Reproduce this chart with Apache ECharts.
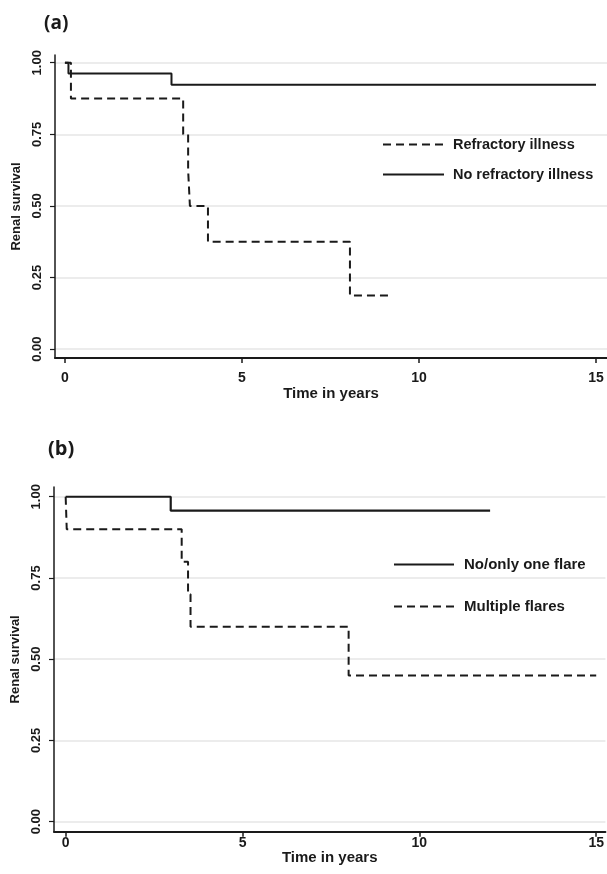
<!DOCTYPE html>
<html>
<head>
<meta charset="utf-8">
<script src="https://cdn.jsdelivr.net/npm/echarts@6/dist/echarts.min.js"></script>
<style>
html,body{margin:0;padding:0;background:#fff;}
#c{width:607px;height:874px;}
</style>
</head>
<body>
<div id="c"></div>
<script>
// Panel (a)
const refTimes = [0, 0.17, 3.34, 3.48, 3.53, 4.04, 8.05, 9.17];
const refSurv = [1, 0.875, 0.75, 0.625, 0.5, 0.375, 0.1875, 0.1875];
const noRefTimes = [0, 0.1, 3.01, 15];
const noRefSurv = [1, 0.962, 0.923, 0.923];
// Panel (b)
const oneFlareTimes = [0, 2.97, 12];
const oneFlareSurv = [1, 0.957, 0.957];
const multiTimes = [0, 0.03, 3.28, 3.46, 3.53, 8.0, 15];
const multiSurv = [1, 0.9, 0.8, 0.7, 0.6, 0.45, 0.45];
// Ticks
const xTicks = [0, 5, 10, 15];
const yTicks = [0, 0.25, 0.5, 0.75, 1];
const yTickLabels = ['0.00', '0.25', '0.50', '0.75', '1.00'];

const zip = (a, b) => a.map((v, i) => [v, b[i]]);
const INK = '#1a1a1a';
const FONT = 'Liberation Sans, Arial, sans-serif';

function xAxis(gi, min, max, labelMargin, nameGap) {
  return {
    type: 'value', gridIndex: gi, min: min, max: max,
    name: 'Time in years', nameLocation: 'middle', nameGap: nameGap,
    nameTextStyle: {color: INK, fontSize: 15, fontWeight: 'bold', fontFamily: FONT},
    axisLine: {show: true, onZero: false, lineStyle: {color: INK, width: 2}},
    axisTick: {show: true, length: 5, lineStyle: {color: INK, width: 1.5}, customValues: xTicks},
    axisLabel: {customValues: xTicks, margin: labelMargin, color: INK, fontSize: 14, fontWeight: 'bold', fontFamily: FONT},
    splitLine: {show: false}
  };
}
function yAxis(gi, min, max) {
  return {
    type: 'value', gridIndex: gi, min: min, max: max,
    name: 'Renal survival', nameLocation: 'middle', nameGap: 28, nameRotate: 90,
    nameTextStyle: {color: INK, fontSize: 13, fontWeight: 'bold', fontFamily: FONT},
    axisLine: {show: true, onZero: false, lineStyle: {color: INK, width: 1.5}},
    axisTick: {show: true, length: 5, lineStyle: {color: INK, width: 1.2}, customValues: yTicks},
    axisLabel: {customValues: yTicks, rotate: 90, margin: 11, color: INK, fontSize: 13, fontWeight: 'bold', fontFamily: FONT,
      formatter: v => yTickLabels[yTicks.indexOf(Math.round(v*100)/100)] ?? v.toFixed(2)},
    splitLine: {show: true, lineStyle: {color: '#e6e6e6', width: 1.5}}
  };
}

const chart = echarts.init(document.getElementById('c'), null, {renderer: 'canvas'});
chart.setOption({
  backgroundColor: '#fff',
  animation: false,
  title: [
    {text: '(a)', left: 39, top: 9, textStyle: {fontSize: 19, fontWeight: 'bold', color: INK, fontFamily: 'Open Sans, sans-serif'}},
    {text: '(b)', left: 43, top: 434, textStyle: {fontSize: 20, fontWeight: 'bold', color: INK, fontFamily: 'Open Sans, sans-serif'}}
  ],
  grid: [
    {left: 55, right: 0, top: 55, height: 303},
    {left: 54, right: 0, top: 487, height: 344.7}
  ],
  xAxis: [xAxis(0, -0.28, 15.31, 13, 23), xAxis(1, -0.33, 15.26, 4, 19)],
  yAxis: [yAxis(0, -0.031, 1.027), yAxis(1, -0.0308, 1.03)],
  legend: [
    {data: ['Refractory illness', 'No refractory illness'], orient: 'vertical', left: 377, top: 132,
     itemWidth: 61, itemHeight: 14, itemGap: 15, itemStyle: {opacity: 0},
     textStyle: {color: INK, fontSize: 14.5, fontWeight: 'bold', fontFamily: FONT, padding: [0, 0, 0, 4]}},
    {data: ['No/only one flare', 'Multiple flares'], orient: 'vertical', left: 388, top: 552,
     itemWidth: 60, itemHeight: 14, itemGap: 27, itemStyle: {opacity: 0},
     textStyle: {color: INK, fontSize: 15, fontWeight: 'bold', fontFamily: FONT, padding: [0, 0, 0, 5]}}
  ],
  series: [
    {name: 'Refractory illness', type: 'line', xAxisIndex: 0, yAxisIndex: 0, step: 'end', symbol: 'none',
     data: zip(refTimes, refSurv), lineStyle: {color: INK, width: 2, type: [8, 5]}, itemStyle: {color: INK}},
    {name: 'No refractory illness', type: 'line', xAxisIndex: 0, yAxisIndex: 0, step: 'end', symbol: 'none',
     data: zip(noRefTimes, noRefSurv), lineStyle: {color: INK, width: 2}, itemStyle: {color: INK}},
    {name: 'No/only one flare', type: 'line', xAxisIndex: 1, yAxisIndex: 1, step: 'end', symbol: 'none',
     data: zip(oneFlareTimes, oneFlareSurv), lineStyle: {color: INK, width: 2.2}, itemStyle: {color: INK}},
    {name: 'Multiple flares', type: 'line', xAxisIndex: 1, yAxisIndex: 1, step: 'end', symbol: 'none',
     data: zip(multiTimes, multiSurv), lineStyle: {color: INK, width: 2, type: [8, 5]}, itemStyle: {color: INK}}
  ]
});
</script>
</body>
</html>
